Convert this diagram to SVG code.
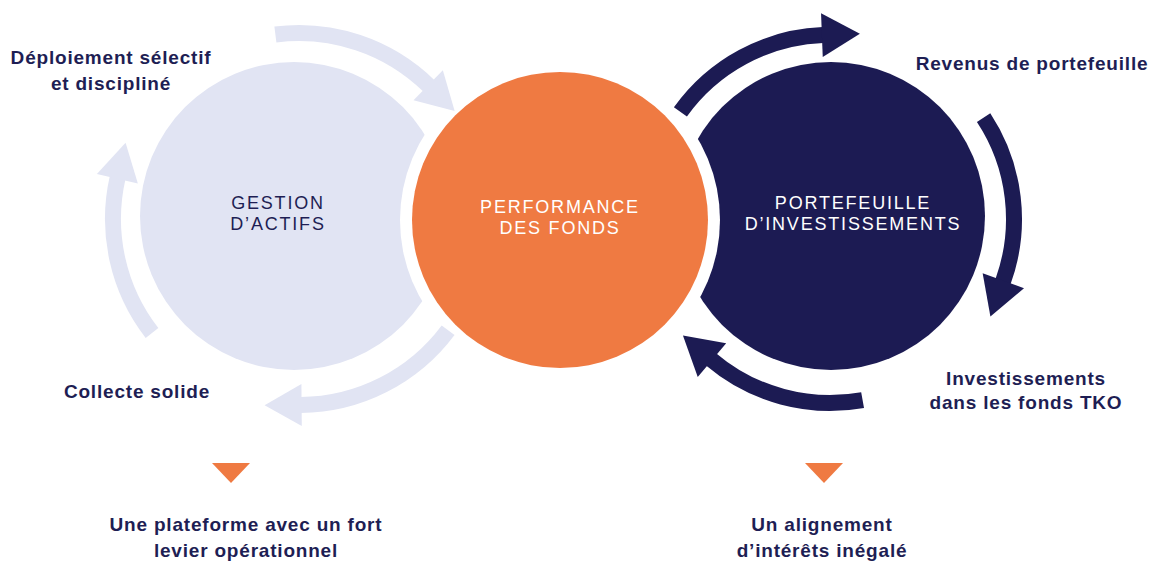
<svg xmlns="http://www.w3.org/2000/svg" width="1149" height="565" viewBox="0 0 1149 565">
  <style>
    .lbl { font-family: "Liberation Sans", Arial, sans-serif; font-weight: bold; font-size: 19px; fill: #1E1E54; letter-spacing: 0.8px; text-anchor: middle; }
    .cap { font-family: "Liberation Sans", Arial, sans-serif; font-size: 18px; letter-spacing: 1.8px; text-anchor: middle; }
    .band-l { fill: none; stroke: #E1E4F3; stroke-width: 16; }
    .band-n { fill: none; stroke: #1C1B53; stroke-width: 16; }
    .tri { fill: #EF7A42; }
  </style>
  <defs>
    <marker id="headL" markerUnits="userSpaceOnUse" orient="auto" markerWidth="60" markerHeight="60" refX="0" refY="0" viewBox="-2 -30 60 60" overflow="visible">
      <path d="M-1,-21 L36,0 L-1,21 Z" fill="#E1E4F3"/>
    </marker>
    <marker id="headN" markerUnits="userSpaceOnUse" orient="auto" markerWidth="60" markerHeight="60" refX="0" refY="0" viewBox="-2 -30 60 60" overflow="visible">
      <path d="M-1,-22 L37,0 L-1,22 Z" fill="#1C1B53"/>
    </marker>
  </defs>
  <rect width="1149" height="565" fill="#FFFFFF"/>

  <g id="node-gestion">
    <circle cx="294" cy="216" r="154" fill="#E1E4F3"/>
  </g>
  <g id="node-portefeuille">
    <circle cx="831" cy="216" r="154" fill="#1C1B53"/>
  </g>
  <g id="node-performance">
    <circle cx="560" cy="220" r="160" fill="#FFFFFF"/>
    <circle cx="560" cy="220" r="148" fill="#EF7A42"/>
    <text class="cap" x="560" y="213" fill="#FFFFFF">PERFORMANCE</text>
    <text class="cap" x="560" y="234" fill="#FFFFFF">DES FONDS</text>
  </g>
  <g id="label-gestion">
    <text class="cap" x="278" y="209" fill="#1E1E54">GESTION</text>
    <text class="cap" x="278" y="230" fill="#1E1E54">D’ACTIFS</text>
  </g>
  <g id="label-portefeuille">
    <text class="cap" x="853" y="209" fill="#FFFFFF">PORTEFEUILLE</text>
    <text class="cap" x="853" y="230" fill="#FFFFFF">D’INVESTISSEMENTS</text>
  </g>

  <g id="connectors">
    <path class="band-l" d="M275.4,34.5 A186,186 0 0 1 428.9,85.9" marker-end="url(#headL)"/>
    <path class="band-l" d="M448.1,330.2 A186,186 0 0 1 300.6,405" marker-end="url(#headL)"/>
    <path class="band-l" d="M152,333 A186,186 0 0 1 117.6,177.8" marker-end="url(#headL)"/>
    <path class="band-n" d="M680.4,111.9 A184,184 0 0 1 822.9,35.1" marker-end="url(#headN)"/>
    <path class="band-n" d="M983.6,117.7 A184,184 0 0 1 1003,281.6" marker-end="url(#headN)"/>
    <path class="band-n" d="M862.6,400.1 A184,184 0 0 1 711.2,359.5" marker-end="url(#headN)"/>
  </g>

  <g id="label-deploiement">
    <text class="lbl" x="111" y="64">Déploiement sélectif</text>
    <text class="lbl" x="111" y="90">et discipliné</text>
  </g>
  <g id="label-collecte">
    <text class="lbl" x="137" y="398">Collecte solide</text>
  </g>
  <g id="label-revenus">
    <text class="lbl" x="1032" y="70">Revenus de portefeuille</text>
  </g>
  <g id="label-investissements">
    <text class="lbl" x="1026" y="385">Investissements</text>
    <text class="lbl" x="1026" y="409">dans les fonds TKO</text>
  </g>
  <g id="note-plateforme">
    <polygon class="tri" points="212,463 250,463 231,483"/>
    <text class="lbl" x="246" y="531">Une plateforme avec un fort</text>
    <text class="lbl" x="246" y="557">levier opérationnel</text>
  </g>
  <g id="note-alignement">
    <polygon class="tri" points="805,463 843,463 824,483"/>
    <text class="lbl" x="822" y="531">Un alignement</text>
    <text class="lbl" x="822" y="557">d’intérêts inégalé</text>
  </g>
</svg>
